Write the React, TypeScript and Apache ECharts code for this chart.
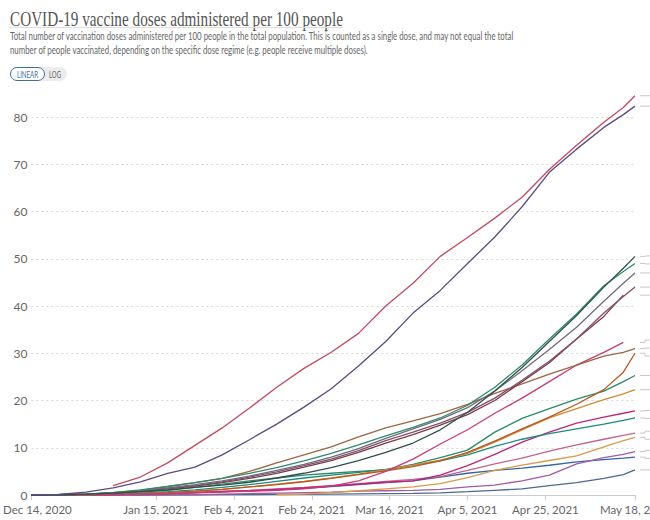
import React, { useEffect, useRef } from "react";
import * as echarts from "echarts";

// ---------- data ----------
const sampleDates = [
  "2020-12-14", "2020-12-21", "2020-12-28", "2021-01-04", "2021-01-11", "2021-01-18",
  "2021-01-25", "2021-02-01", "2021-02-08", "2021-02-15", "2021-02-22", "2021-03-01",
  "2021-03-08", "2021-03-15", "2021-03-22", "2021-03-29", "2021-04-05", "2021-04-12",
  "2021-04-19", "2021-04-26", "2021-05-03", "2021-05-10", "2021-05-15", "2021-05-18",
];
const tickDates = [
  "2020-12-14", "2021-01-15", "2021-02-04", "2021-02-24",
  "2021-03-16", "2021-04-05", "2021-04-25", "2021-05-18",
];
const tickLabels = [
  "Dec 14, 2020", "Jan 15, 2021", "Feb 4, 2021", "Feb 24, 2021",
  "Mar 16, 2021", "Apr 5, 2021", "Apr 25, 2021", "May 18, 2021",
];

const lineRed = [null, null, null, 2.0, 3.8, 6.8, 10.5, 14.2, 18.4, 22.8, 26.8, 30.2, 34.2, 40.0, 44.8, 50.5, 54.5, 58.6, 63.0, 68.9, 74.0, 78.9, 82.0, 84.5];
const lineIndigo = [0, 0.15, 0.6, 1.5, 2.8, 4.6, 5.9, 8.5, 11.7, 15.0, 18.6, 22.5, 27.3, 32.5, 38.5, 43.3, 49.0, 54.6, 61.0, 68.3, 73.2, 77.8, 80.5, 82.3];
const lineDark = [0, 0.05, 0.2, 0.4, 0.7, 1.1, 1.6, 2.1, 2.7, 3.6, 4.6, 5.8, 7.3, 9.0, 11.0, 13.8, 17.5, 22.0, 27.0, 32.5, 38.0, 44.0, 48.0, 50.5];
const lineGreen = [0, 0.05, 0.2, 0.5, 1.1, 1.8, 2.6, 3.5, 4.6, 5.8, 7.2, 8.8, 10.6, 12.5, 14.3, 16.3, 19.0, 22.8, 27.5, 33.0, 38.3, 44.3, 47.3, 49.0];
const lineGrey = [0, 0.05, 0.2, 0.5, 0.9, 1.5, 2.2, 3.0, 4.0, 5.2, 6.5, 8.0, 9.8, 12.0, 14.0, 16.0, 18.5, 22.0, 26.3, 30.8, 35.5, 41.0, 44.8, 47.0];
const linePlum = [0, 0.05, 0.2, 0.4, 0.8, 1.4, 2.0, 2.8, 3.8, 4.9, 6.2, 7.6, 9.4, 11.5, 13.3, 15.2, 17.5, 20.5, 24.3, 28.3, 33.0, 38.5, 42.0, 44.0];
const lineMaroon = [0, 0.05, 0.2, 0.4, 0.8, 1.3, 1.9, 2.6, 3.5, 4.6, 5.9, 7.3, 9.0, 11.0, 12.8, 14.8, 17.0, 20.0, 24.0, 28.0, 33.0, 37.8, 42.3, null];
const lineBrown = [0, 0.05, 0.2, 0.5, 1.0, 1.8, 2.6, 3.5, 5.0, 6.8, 8.5, 10.2, 12.3, 14.2, 15.7, 17.2, 19.2, 21.5, 23.5, 25.6, 27.5, 29.4, 30.2, 31.0];
const linePink = [0, 0.02, 0.05, 0.1, 0.2, 0.3, 0.45, 0.6, 0.8, 1.0, 1.3, 1.9, 3.0, 5.0, 7.6, 10.8, 13.8, 17.3, 20.5, 24.0, 27.5, 30.2, 32.3, null];
const lineRust = [0, 0, 0.05, 0.15, 0.3, 0.5, 0.8, 1.2, 1.7, 2.2, 2.8, 3.5, 4.3, 5.1, 6.0, 7.2, 9.0, 11.4, 14.0, 16.5, 19.2, 22.3, 26.0, 30.0];
const lineOrange = [0, 0, 0.05, 0.15, 0.3, 0.5, 0.8, 1.2, 1.7, 2.3, 2.9, 3.6, 4.4, 5.3, 6.3, 7.4, 8.8, 11.2, 13.8, 16.3, 18.3, 20.2, 21.4, 22.3];
const lineTeal = [0, 0.02, 0.1, 0.3, 0.6, 1.0, 1.6, 2.3, 3.0, 3.6, 4.2, 4.6, 5.0, 5.3, 6.5, 7.9, 9.5, 13.3, 16.2, 18.3, 20.3, 22.0, 24.0, 25.3];
const lineCyan = [0, 0.02, 0.1, 0.2, 0.4, 0.7, 1.1, 1.6, 2.2, 2.9, 3.6, 4.2, 4.8, 5.4, 6.3, 7.2, 8.5, 10.3, 11.8, 13.0, 14.0, 15.0, 15.8, 16.3];
const lineMagenta = [0, 0, 0.05, 0.1, 0.2, 0.3, 0.5, 0.7, 0.9, 1.2, 1.5, 1.9, 2.3, 2.7, 3.0, 4.2, 6.2, 8.6, 11.2, 13.3, 15.2, 16.5, 17.3, 17.8];
const lineMauve = [0, 0, 0.05, 0.1, 0.2, 0.4, 0.6, 0.8, 1.0, 1.3, 1.6, 2.0, 2.4, 2.9, 3.3, 3.9, 5.2, 6.6, 7.8, 9.3, 10.6, 11.8, 12.6, 13.1];
const lineTan = [null, null, null, null, null, null, null, null, null, 0.05, 0.2, 0.5, 0.9, 1.3, 1.7, 2.4, 3.7, 5.2, 6.3, 7.3, 8.3, 10.2, 11.5, 12.2];
const lineLavender = [0, 0, 0, 0, 0.02, 0.05, 0.1, 0.2, 0.3, 0.4, 0.5, 0.6, 0.8, 0.9, 1.0, 1.2, 1.7, 2.1, 3.0, 4.2, 6.6, 7.9, 8.6, 9.2];
const lineBlue = [0, 0.01, 0.05, 0.1, 0.2, 0.35, 0.5, 0.7, 0.9, 1.1, 1.4, 1.8, 2.2, 2.6, 3.0, 3.8, 4.6, 5.2, 5.7, 6.3, 7.0, 7.5, 7.8, 8.0];
const lineSlate = [0, 0, 0, 0, 0, 0.02, 0.05, 0.08, 0.1, 0.12, 0.15, 0.2, 0.25, 0.3, 0.35, 0.45, 0.7, 1.0, 1.3, 2.0, 2.6, 3.5, 4.3, 5.3];

const seriesList: { name: string; color: string; values: (number | null)[] }[] = [
  { name: "Line 19", color: "#4b6a8f", values: lineSlate },
  { name: "Line 18", color: "#3465a8", values: lineBlue },
  { name: "Line 17", color: "#a15ba1", values: lineLavender },
  { name: "Line 16", color: "#d9994e", values: lineTan },
  { name: "Line 15", color: "#c2628d", values: lineMauve },
  { name: "Line 14", color: "#c02477", values: lineMagenta },
  { name: "Line 13", color: "#1b8a82", values: lineCyan },
  { name: "Line 12", color: "#2b8a66", values: lineTeal },
  { name: "Line 11", color: "#d38a36", values: lineOrange },
  { name: "Line 10", color: "#b9561e", values: lineRust },
  { name: "Line 9", color: "#c93a78", values: linePink },
  { name: "Line 8", color: "#9a6640", values: lineBrown },
  { name: "Line 7", color: "#7a3c48", values: lineMaroon },
  { name: "Line 6", color: "#844f6c", values: linePlum },
  { name: "Line 5", color: "#6e6b82", values: lineGrey },
  { name: "Line 4", color: "#2f8a68", values: lineGreen },
  { name: "Line 3", color: "#2f4f4a", values: lineDark },
  { name: "Line 2", color: "#5b4a80", values: lineIndigo },
  { name: "Line 1", color: "#c14a63", values: lineRed },
];

const titleText = "COVID-19 vaccine doses administered per 100 people";
const subtitleLines = [
  "Total number of vaccination doses administered per 100 people in the total population. This is counted as a single dose, and may not equal the total",
  "number of people vaccinated, depending on the specific dose regime (e.g. people receive multiple doses).",
];

// ---------- helpers ----------
function dayRange(start: string, end: string): string[] {
  const out: string[] = [];
  const t0 = Date.parse(start + "T00:00:00Z");
  const t1 = Date.parse(end + "T00:00:00Z");
  for (let t = t0; t <= t1; t += 86400000) out.push(new Date(t).toISOString().slice(0, 10));
  return out;
}

function measure(text: string, font: string): number {
  const ctx = document.createElement("canvas").getContext("2d");
  if (!ctx) return text.length * 6;
  ctx.font = font;
  return ctx.measureText(text).width;
}

export default function App() {
  const ref = useRef<HTMLDivElement | null>(null);

  useEffect(() => {
    if (!ref.current) return;
    const chart = echarts.init(ref.current, null, { renderer: "svg" });
    const days = dayRange(sampleDates[0], sampleDates[sampleDates.length - 1]);
    const labelMap: Record<string, string> = {};
    tickDates.forEach((d, i) => (labelMap[d] = tickLabels[i]));
    const showTick = (_i: number, v: string) => v in labelMap;
    const lastTick = tickDates[tickDates.length - 1];

    const titleFont = '20px "Liberation Serif"';
    const titleScale = 333 / measure(titleText, titleFont);
    const subFont = '12px Lato';
    const subScale = 505 / measure(subtitleLines[0], subFont);
    const btnFont = '10px Lato';
    const linScale = 21 / measure("LINEAR", btnFont);
    const logScale = 12 / measure("LOG", btnFont);
    const axisFont = '11.5px Lato';

    const baseGraphic: any[] = [
      {
        type: "text", x: 10, y: 19, scaleX: titleScale,
        style: { text: titleText, font: titleFont, fill: "#555", verticalAlign: "middle", align: "left" },
      },
      { type: "line", shape: { x1: 10, y1: 27.5, x2: 343, y2: 27.5 }, style: { stroke: "#dedede", lineWidth: 1 } },
      ...subtitleLines.map((t, i) => ({
        type: "text", x: 10, y: 35.5 + i * 14, scaleX: subScale,
        style: { text: t, font: subFont, fill: "#666", verticalAlign: "middle", align: "left" },
      })),
      { type: "rect", shape: { x: 36, y: 67, width: 31, height: 14, r: 7 }, style: { fill: "#ececec" } },
      { type: "rect", shape: { x: 10.5, y: 67.5, width: 34, height: 13, r: 6.5 }, style: { fill: "#fff", stroke: "#3d6ea6", lineWidth: 1 } },
      {
        type: "text", x: 17, y: 74.5, scaleX: linScale,
        style: { text: "LINEAR", font: btnFont, fill: "#3d6ea6", verticalAlign: "middle", align: "left" },
      },
      {
        type: "text", x: 49, y: 74.5, scaleX: logScale,
        style: { text: "LOG", font: btnFont, fill: "#666", verticalAlign: "middle", align: "left" },
      },
    ];

    const option: any = {
      animation: false,
      backgroundColor: "#fff",
      grid: { left: 28, right: 15, top: 117, bottom: 25, containLabel: false },
      xAxis: {
        type: "category",
        data: days,
        boundaryGap: false,
        axisLine: { lineStyle: { color: "#cccccc" } },
        axisTick: { show: true, interval: showTick, length: 5, lineStyle: { color: "#cccccc" } },
        axisLabel: {
          interval: showTick,
          color: "#666",
          fontFamily: "Lato",
          fontSize: 11.5,
          margin: 8,
          formatter: (v: string) =>
            v === tickDates[0] ? "{first|" + labelMap[v] + "}" : v === lastTick ? "" : labelMap[v] || "",
          rich: { first: { padding: [0, 0, 0, 12], color: "#666", fontFamily: "Lato", fontSize: 11.5 } },
        },
        splitLine: { show: false },
      },
      yAxis: {
        type: "value",
        min: 0,
        max: 80,
        interval: 10,
        axisLine: { show: false },
        axisTick: { show: false },
        axisLabel: { color: "#666", fontFamily: "Lato", fontSize: 12, margin: 4 },
        splitLine: { lineStyle: { color: "#d8d8d8", type: [2, 3], width: 1 } },
      },
      series: seriesList.map((s) => ({
        name: s.name,
        type: "line",
        showSymbol: false,
        clip: false,
        silent: true,
        color: s.color,
        lineStyle: { width: 1.3, color: s.color },
        data: sampleDates
          .map((d, i) => [d, s.values[i]])
          .filter((p) => p[1] !== null),
      })),
      graphic: { elements: baseGraphic },
    };
    chart.setOption(option);

    // label connectors at the right edge (labels themselves fall outside the picture)
    const ends = seriesList.map((s) => {
      let i = s.values.length - 1;
      while (i >= 0 && s.values[i] === null) i--;
      const p = chart.convertToPixel({ xAxisIndex: 0, yAxisIndex: 0 }, [sampleDates[i], s.values[i]]) as number[];
      return p[1];
    });
    const xEnd = chart.convertToPixel({ xAxisIndex: 0 }, lastTick) as unknown as number;
    const order = ends.map((y, i) => ({ y, i })).sort((a, b) => a.y - b.y);
    const pos = order.map((o) => o.y);
    const gap = 8;
    for (let it = 0; it < 300; it++) {
      for (let k = 0; k < pos.length - 1; k++) {
        const d = pos[k + 1] - pos[k];
        if (d < gap) {
          const m = (gap - d) / 2;
          pos[k] -= m;
          pos[k + 1] += m;
        }
      }
    }
    const connectors = order.map((o, k) => ({
      type: "polyline",
      silent: true,
      shape: { points: [[xEnd + 5, o.y], [xEnd + 10, o.y], [xEnd + 10, pos[k]], [xEnd + 30, pos[k]]] },
      style: { stroke: "#c8c8c8", lineWidth: 1, fill: null },
    }));
    const yBase = chart.convertToPixel({ yAxisIndex: 0 }, 0) as unknown as number;
    const lastLabel = {
      type: "text",
      x: xEnd,
      y: yBase + 8,
      style: { text: labelMap[lastTick], font: axisFont, fill: "#666", align: "center", verticalAlign: "top" },
    };
    chart.setOption({ graphic: { elements: [...baseGraphic, ...connectors, lastLabel] } });

    return () => chart.dispose();
  }, []);

  return <div ref={ref} style={{ width: 650, height: 520, position: "absolute", left: 0, top: 0 }} />;
}
